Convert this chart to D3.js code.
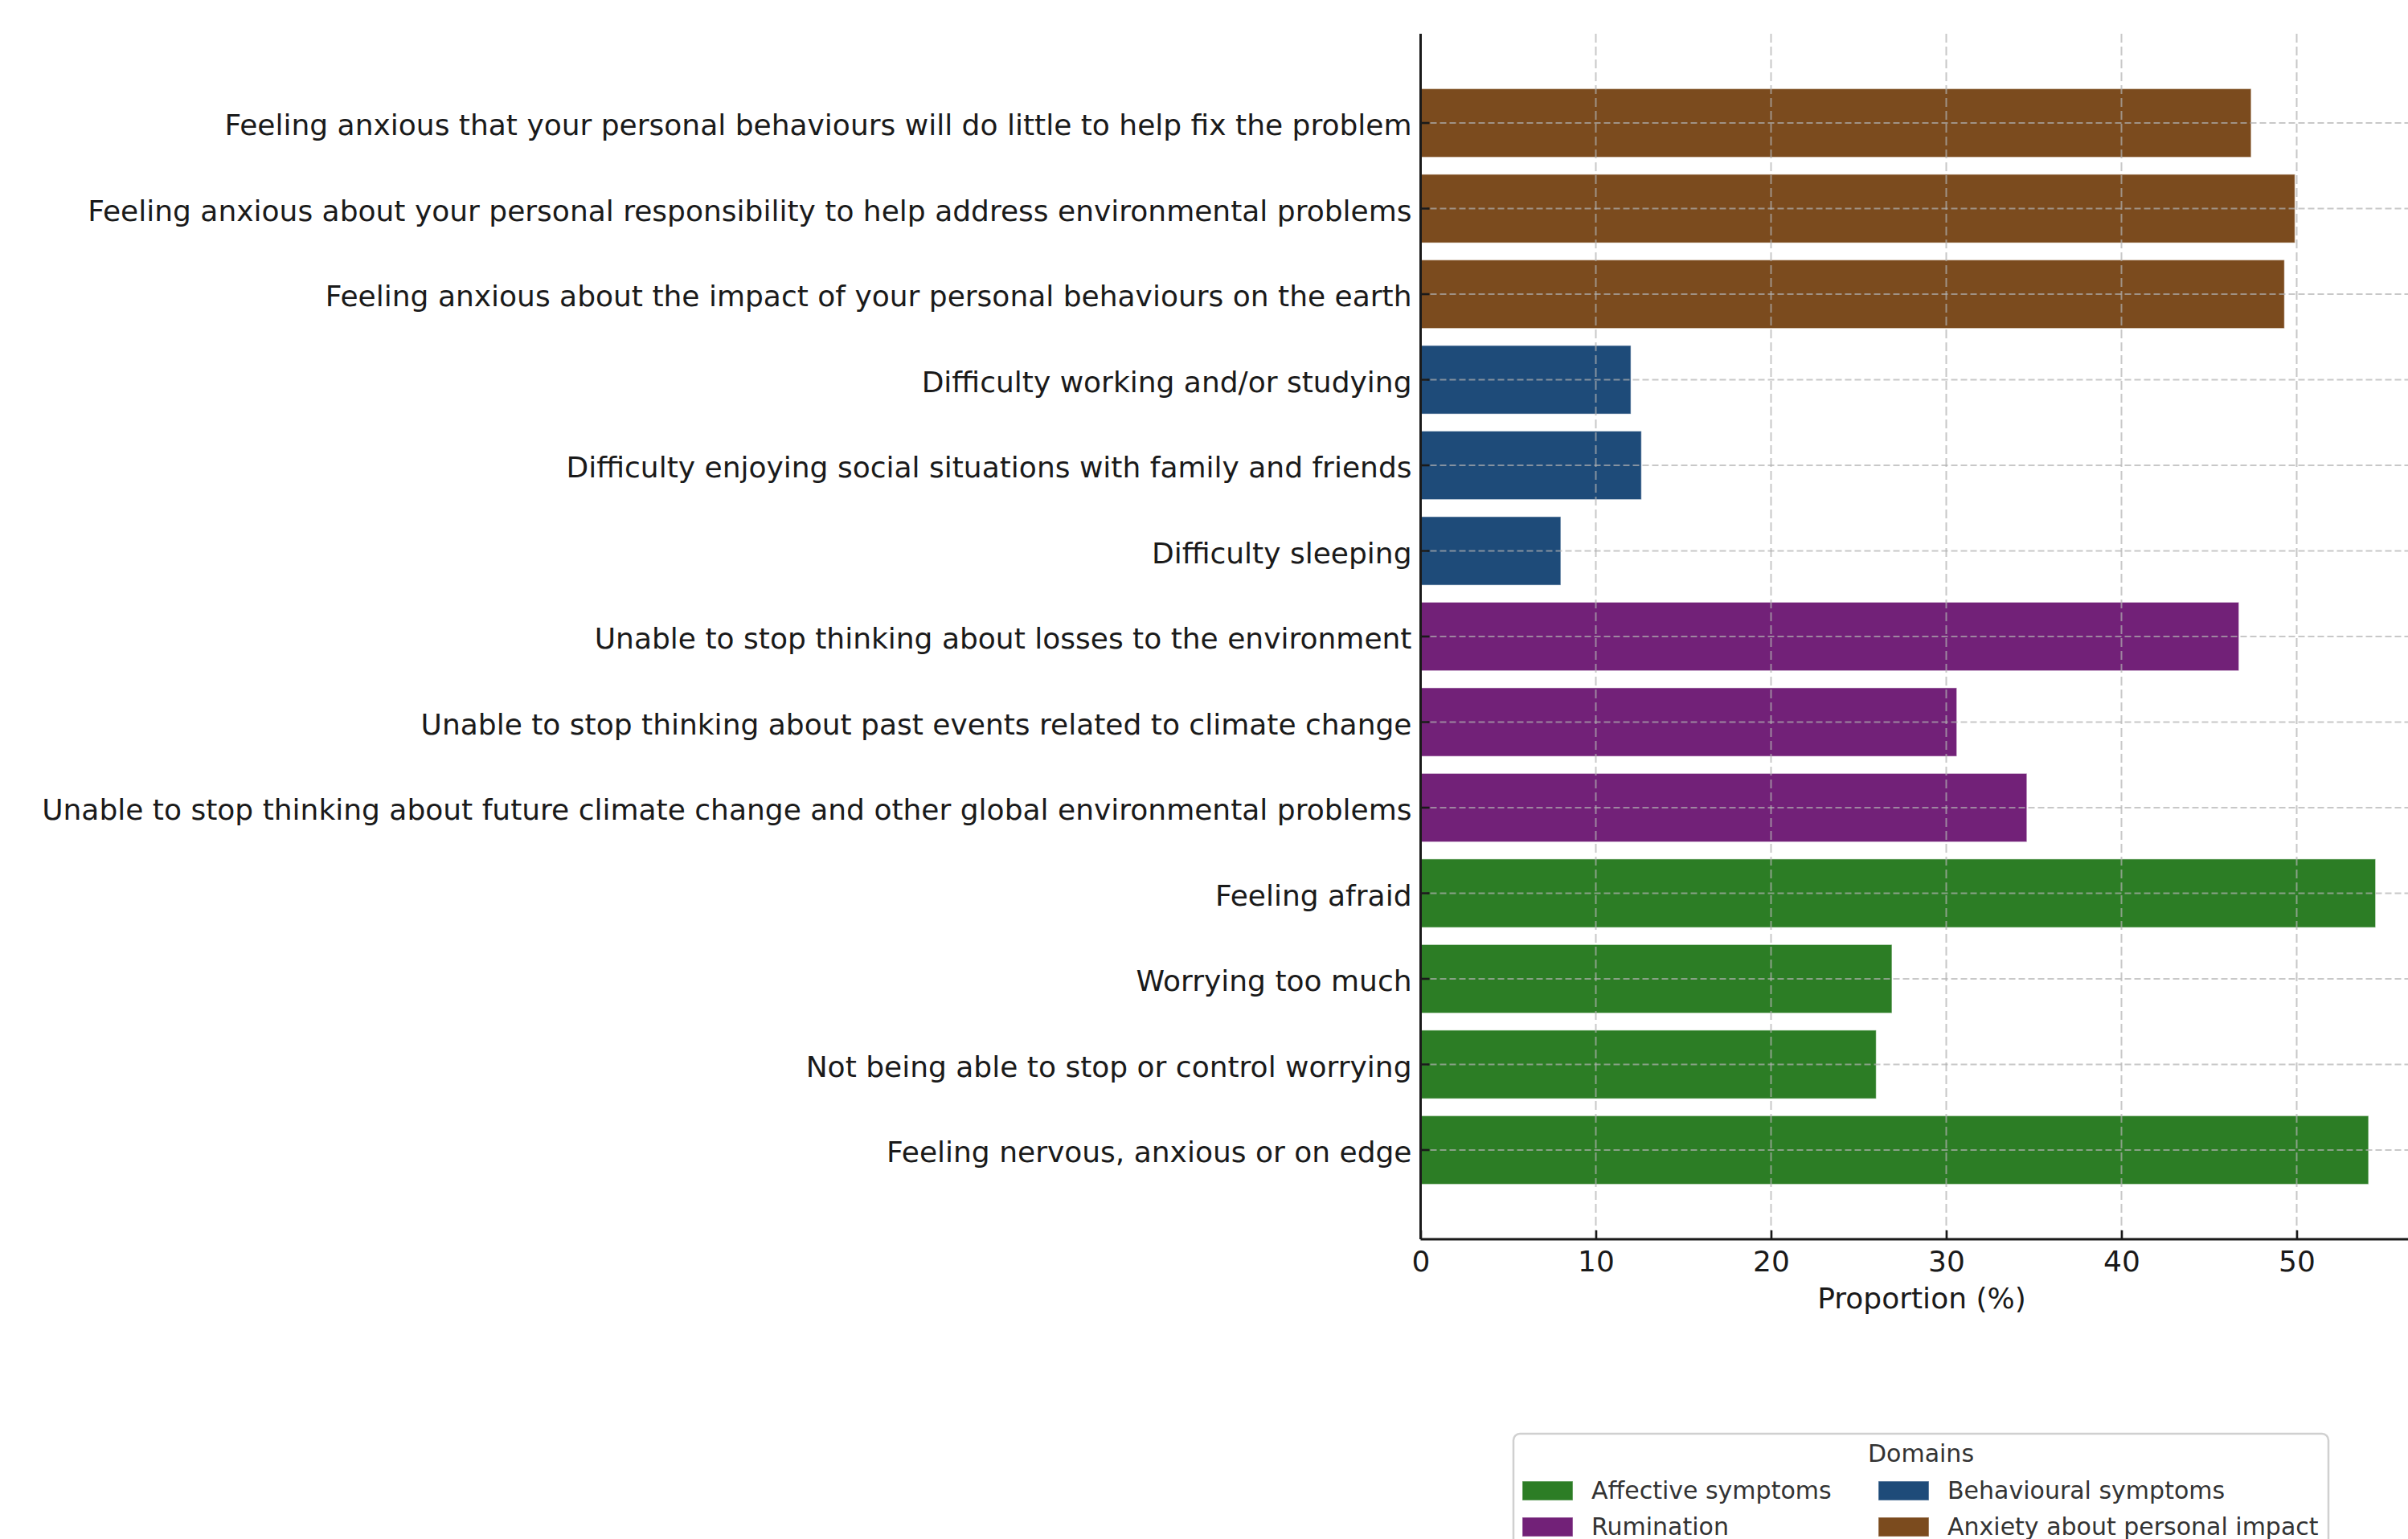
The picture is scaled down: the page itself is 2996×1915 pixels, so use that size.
<!DOCTYPE html>
<html>
<head>
<meta charset="utf-8">
<script src="https://cdn.jsdelivr.net/npm/d3@7"></script>
<style>
  body { margin: 0; background: #fff; }
  svg { display: block; font-family: "DejaVu Sans", sans-serif; }
</style>
</head>
<body>
<svg id="chart" width="2996" height="1915"></svg>
<script>
// data, top to bottom as drawn
const items = [
  "Feeling anxious that your personal behaviours will do little to help fix the problem",
  "Feeling anxious about your personal responsibility to help address environmental problems",
  "Feeling anxious about the impact of your personal behaviours on the earth",
  "Difficulty working and/or studying",
  "Difficulty enjoying social situations with family and friends",
  "Difficulty sleeping",
  "Unable to stop thinking about losses to the environment",
  "Unable to stop thinking about past events related to climate change",
  "Unable to stop thinking about future climate change and other global environmental problems",
  "Feeling afraid",
  "Worrying too much",
  "Not being able to stop or control worrying",
  "Feeling nervous, anxious or on edge"
];
const proportions = [47.4, 49.9, 49.3, 12.0, 12.6, 8.0, 46.7, 30.6, 34.6, 54.5, 26.9, 26.0, 54.1];
const itemDomains = [
  "Anxiety about personal impact", "Anxiety about personal impact", "Anxiety about personal impact",
  "Behavioural symptoms", "Behavioural symptoms", "Behavioural symptoms",
  "Rumination", "Rumination", "Rumination",
  "Affective symptoms", "Affective symptoms", "Affective symptoms", "Affective symptoms"
];
const domainNames = ["Affective symptoms", "Rumination", "Behavioural symptoms", "Anxiety about personal impact"];
const domainColors = ["#2c7d25", "#722178", "#1e4b79", "#7b4b1e"];
const xTicks = [0, 10, 20, 30, 40, 50];

const data = items.map((d, i) => ({ item: d, value: proportions[i], domain: itemDomains[i] }));

// plot area
const svg = d3.select("#chart");
const plotLeft = 1767.5, plotTop = 42, plotBottom = 1542;
const xMax = 57.2;
const pxPerUnit = 21.8;

const x = d3.scaleLinear().domain([0, xMax]).range([plotLeft, plotLeft + xMax * pxPerUnit]);
const y = d3.scaleBand()
  .domain(items)
  .range([plotTop, plotBottom])
  .paddingInner(0.2)
  .paddingOuter(0.6425);
const color = d3.scaleOrdinal().domain(domainNames).range(domainColors);

// bars
svg.append("g")
  .selectAll("rect")
  .data(data)
  .enter()
  .append("rect")
  .attr("x", x(0))
  .attr("y", (d) => y(d.item))
  .attr("width", (d) => x(d.value) - x(0))
  .attr("height", y.bandwidth())
  .attr("fill", (d) => color(d.domain))
  .attr("stroke", "#ffffff")
  .attr("stroke-opacity", 0.45)
  .attr("stroke-width", 1.2);

// grid on top of bars
svg.append("g")
  .selectAll("line")
  .data(xTicks.slice(1))
  .enter()
  .append("line")
  .attr("x1", (d) => x(d))
  .attr("x2", (d) => x(d))
  .attr("y1", plotTop)
  .attr("y2", plotBottom)
  .attr("stroke", "#b0b0b0")
  .attr("stroke-opacity", 0.7)
  .attr("stroke-width", 2)
  .attr("stroke-dasharray", "11,5");

svg.append("g")
  .selectAll("line")
  .data(items)
  .enter()
  .append("line")
  .attr("x1", x(0))
  .attr("x2", 2996)
  .attr("y1", (d) => y(d) + y.bandwidth() / 2)
  .attr("y2", (d) => y(d) + y.bandwidth() / 2)
  .attr("stroke", "#b0b0b0")
  .attr("stroke-opacity", 0.7)
  .attr("stroke-width", 2)
  .attr("stroke-dasharray", "8,4");

// axes
const xAxis = svg.append("g")
  .attr("transform", `translate(0,${plotBottom})`)
  .call(d3.axisBottom(x).tickValues(xTicks).tickFormat(d3.format("d"))
    .tickSizeInner(-11).tickSizeOuter(0).tickPadding(14));

const yAxis = svg.append("g")
  .attr("transform", `translate(${plotLeft},0)`)
  .call(d3.axisLeft(y).tickSizeInner(-11).tickSizeOuter(0).tickPadding(11));

[xAxis, yAxis].forEach((a) => {
  a.attr("font-family", null).attr("font-size", null);
  a.select(".domain").attr("stroke", "#1a1a1a").attr("stroke-width", 3);
  a.selectAll(".tick line").attr("stroke", "#1a1a1a").attr("stroke-width", 2.6);
  a.selectAll(".tick text").attr("fill", "#1a1a1a").style("font-size", "36px");
});
yAxis.selectAll(".tick text").attr("dy", "0.42em");
yAxis.select(".domain").attr("d", `M0,${plotTop}V${plotBottom}`);
xAxis.select(".domain").attr("d", `M${plotLeft},0H2996`);

svg.append("text")
  .attr("x", (x.range()[0] + x.range()[1]) / 2)
  .attr("y", 1628)
  .attr("text-anchor", "middle")
  .attr("fill", "#1a1a1a")
  .style("font-size", "36px")
  .text("Proportion (%)");

// legend
const legend = svg.append("g");
legend.append("rect")
  .attr("x", 1883)
  .attr("y", 1784)
  .attr("width", 1014)
  .attr("height", 180)
  .attr("rx", 8)
  .attr("fill", "#ffffff")
  .attr("fill-opacity", 0.8)
  .attr("stroke", "#d0d0d0")
  .attr("stroke-width", 2.5);

legend.append("text")
  .attr("x", 2390)
  .attr("y", 1819)
  .attr("text-anchor", "middle")
  .attr("fill", "#333")
  .style("font-size", "30px")
  .text("Domains");

const cols = [1894, 2337];
const rows = [1843, 1888];
const entries = legend.selectAll(".entry")
  .data(domainNames)
  .enter()
  .append("g")
  .attr("class", "entry")
  .attr("transform", (d, i) => `translate(${cols[Math.floor(i / 2)]},${rows[i % 2]})`);

entries.append("rect")
  .attr("width", 63)
  .attr("height", 24)
  .attr("fill", (d) => color(d))
  .attr("stroke", "#ffffff")
  .attr("stroke-opacity", 0.45)
  .attr("stroke-width", 1.2);

entries.append("text")
  .attr("x", 86)
  .attr("y", 22)
  .attr("fill", "#333")
  .style("font-size", "30px")
  .text((d) => d);
</script>
</body>
</html>
